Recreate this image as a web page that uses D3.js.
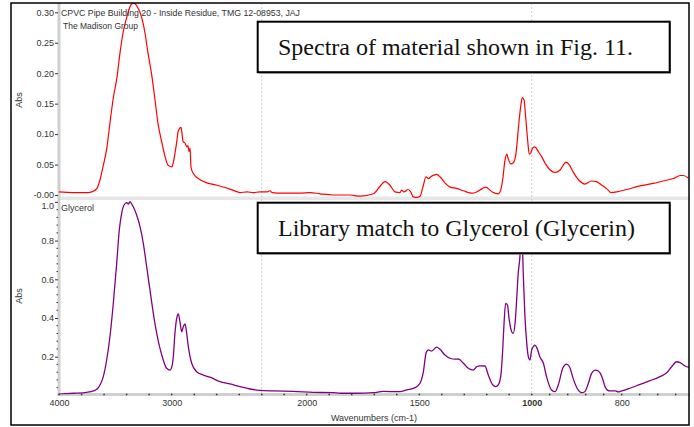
<!DOCTYPE html>
<html>
<head>
<meta charset="utf-8">
<script src="https://cdn.jsdelivr.net/npm/d3@7"></script>
<style>
body { margin: 0; background: #fff; }
svg { display: block; }
.lab { font-family: "Liberation Sans", Arial, sans-serif; font-size: 9px; fill: #333; }
.big { font-family: "Liberation Serif", "Times New Roman", serif; font-size: 24px; fill: #111; }
</style>
</head>
<body>
<svg width="694" height="427"></svg>
<script>
// wavenumber axis of the instrument is piecewise (scale changes at the labelled ticks)
var wnStops = [4000, 3000, 2000, 1500, 1000, 800, 650];
var xTicks = [4000, 3000, 2000, 1500, 1000, 800];
var xMinor = [3800, 3600, 3400, 3200, 2833, 2667, 2500, 2333, 2167, 1900, 1800, 1700, 1600,
              1400, 1300, 1200, 1100, 960, 920, 880, 840, 760, 720, 680];
var gridWn = [2333, 1000];

var topTicks = [0, 0.05, 0.10, 0.15, 0.20, 0.25, 0.30];
var topTickLabels = ["-0.00", "0.05", "0.10", "0.15", "0.20", "0.25", "0.30"];
var botTicks = [0.2, 0.4, 0.6, 0.8, 1.0];
var botTickLabels = ["0.2", "0.4", "0.6", "0.8", "1.0"];
var botMinor = d3.range(1, 25).map(function (i) { return i * 0.04; });

// sample: CPVC pipe inside residue
var sampleWn = [4000,3876,3752,3698,3663,3636,3610,3574,3548,3521,
  3485,3459,3432,3397,3370,3343,3326,3299,3264,3237,
  3210,3175,3148,3122,3086,3059,3033,2998,2990,2976,
  2961,2953,2939,2931,2924,2916,2901,2887,2879,2872,
  2864,2857,2842,2790,2739,2664,2546,2494,2442,2398,
  2346,2294,2272,2257,2176,2050,1985,1941,1883,1808,
  1763,1704,1675,1652,1630,1608,1586,1578,1568,1549,
  1538,1527,1509,1497,1482,1470,1460,1445,1423,1408,
  1386,1363,1334,1304,1267,1245,1222,1203,1186,1171,
  1149,1141,1129,1119,1111,1104,1093,1082,1070,1060,
  1049,1042,1034,1027,1018,1011,1004,998,993,985,
  978,970,959,948,937,930,924,916,908,896,
  882,867,856,844,833,824,811,789,759,730,
  708,685,670,663,652];
var sampleAbs = [0.005,0.004,0.004,0.006,0.011,0.025,0.046,0.079,0.118,0.156,
  0.194,0.233,0.266,0.293,0.309,0.315,0.314,0.307,0.290,0.266,
  0.233,0.194,0.156,0.118,0.085,0.063,0.049,0.046,0.052,0.068,
  0.090,0.104,0.110,0.111,0.102,0.088,0.085,0.079,0.081,0.071,
  0.077,0.046,0.036,0.025,0.020,0.016,0.008,0.004,0.005,0.004,
  0.005,0.005,0.007,0.004,0.003,0.003,0.004,0.002,0.000,0.000,
  -0.002,0.002,0.014,0.022,0.016,0.005,0.004,0.008,0.005,0.009,
  0.005,-0.003,-0.004,-0.002,0.016,0.030,0.027,0.031,0.034,0.030,
  0.020,0.013,0.011,0.007,0.003,0.005,0.010,0.013,0.008,0.004,
  0.002,0.005,0.025,0.057,0.067,0.059,0.051,0.053,0.068,0.107,
  0.145,0.160,0.156,0.129,0.090,0.067,0.069,0.077,0.079,0.071,
  0.063,0.052,0.041,0.037,0.041,0.049,0.054,0.049,0.038,0.025,
  0.018,0.023,0.022,0.016,0.010,0.004,0.005,0.009,0.015,0.019,
  0.023,0.027,0.032,0.032,0.028];

// library: glycerol
var glyWn = [4000,3873,3754,3696,3665,3636,3607,3577,3548,3518,
  3488,3465,3444,3423,3399,3385,3370,3355,3341,3311,
  3281,3252,3222,3193,3163,3133,3104,3075,3045,3015,
  3000,2988,2976,2963,2951,2939,2926,2914,2901,2889,
  2877,2852,2815,2766,2716,2642,2568,2494,2420,2346,
  2247,2099,1971,1882,1852,1778,1704,1660,1586,1556,
  1519,1497,1482,1470,1460,1445,1423,1408,1386,1363,
  1341,1326,1304,1282,1260,1245,1230,1208,1193,1178,
  1160,1149,1138,1129,1123,1116,1108,1100,1089,1082,
  1074,1067,1060,1052,1048,1043,1037,1030,1022,1015,
  1008,1000,996,993,988,982,974,967,956,948,
  941,931,923,916,908,899,889,882,874,867,
  859,852,844,837,829,822,814,808,800,782,
  759,737,715,700,689,678,670,659,648];
var glyAbs = [0.007,0.011,0.016,0.023,0.032,0.054,0.097,0.183,0.303,0.476,
  0.683,0.855,0.941,0.984,0.996,0.989,1.001,0.989,0.975,0.932,
  0.872,0.786,0.665,0.545,0.424,0.321,0.243,0.183,0.140,0.131,
  0.145,0.200,0.321,0.398,0.421,0.381,0.329,0.355,0.369,0.321,
  0.252,0.166,0.122,0.105,0.094,0.071,0.059,0.045,0.033,0.026,
  0.023,0.021,0.016,0.014,0.011,0.011,0.014,0.021,0.019,0.028,
  0.040,0.063,0.122,0.218,0.235,0.229,0.249,0.238,0.209,0.192,
  0.187,0.188,0.166,0.140,0.131,0.148,0.153,0.152,0.105,0.063,
  0.045,0.054,0.097,0.235,0.373,0.476,0.467,0.390,0.329,0.321,
  0.373,0.493,0.631,0.726,0.840,0.810,0.613,0.407,0.269,0.200,
  0.183,0.235,0.252,0.260,0.243,0.200,0.166,0.097,0.028,0.019,
  0.054,0.140,0.162,0.148,0.088,0.037,0.014,0.019,0.063,0.114,
  0.131,0.126,0.097,0.045,0.024,0.023,0.023,0.018,0.023,0.037,
  0.057,0.076,0.097,0.117,0.148,0.174,0.169,0.152,0.143];

var svg = d3.select("svg");

var x = d3.scaleLinear().domain(wnStops).range([59, 171.7, 306.7, 419.3, 531.7, 621.7, 689.2]);
var yTop = d3.scaleLinear().domain([0, 0.30]).range([195, 12.3]);
var yBot = d3.scaleLinear().domain([0, 1.0]).range([395.4, 201.9]);

var plotL = 59, plotR = 689, plotT = 3, axisY = 394.5;

svg.append("defs").append("clipPath").attr("id", "plotclip")
  .append("rect").attr("x", plotL).attr("y", plotT).attr("width", plotR - plotL).attr("height", axisY - plotT);

// panel separator
svg.append("rect").attr("x", plotL).attr("y", 196.5).attr("width", plotR - plotL + 1).attr("height", 3.5).attr("fill", "#e6e6e6");

// grid
svg.selectAll(".grid").data(gridWn).enter().append("line")
  .attr("x1", function (d) { return x(d); }).attr("x2", function (d) { return x(d); })
  .attr("y1", plotT).attr("y2", axisY)
  .attr("stroke", "#c4c4c4").attr("stroke-width", 0.8).attr("stroke-dasharray", "2,2");

// y axis bar and x axis bar
svg.append("rect").attr("x", 57.5).attr("y", plotT).attr("width", 3).attr("height", axisY - plotT + 1.5).attr("fill", "#cfcfcf");
svg.append("rect").attr("x", 57.5).attr("y", axisY - 1.5).attr("width", plotR - 57.5 + 1).attr("height", 3).attr("fill", "#cfcfcf");

function styleAxis(g) {
  g.select(".domain").remove();
  g.attr("font-family", null).attr("font-size", null);
  g.selectAll("line").attr("stroke", "#333");
  g.selectAll("text").attr("class", "lab").attr("fill", null);
}

var gTop = svg.append("g").attr("transform", "translate(58,0)")
  .call(d3.axisLeft(yTop).tickValues(topTicks)
    .tickFormat(function (d, i) { return topTickLabels[i]; })
    .tickSize(3).tickPadding(1));
styleAxis(gTop);

var gBot = svg.append("g").attr("transform", "translate(58,0)")
  .call(d3.axisLeft(yBot).tickValues(botTicks)
    .tickFormat(function (d, i) { return botTickLabels[i]; })
    .tickSize(3).tickPadding(1));
styleAxis(gBot);
gBot.selectAll(".tick").filter(function (d) { return d === 1.0; }).select("text").attr("dy", "0.75em");

svg.append("g").selectAll("line").data(botMinor.filter(function (d) {
    return botTicks.every(function (t) { return Math.abs(t - d) > 1e-6; });
  })).enter().append("line")
  .attr("x1", 56.5).attr("x2", 58).attr("y1", function (d) { return yBot(d); }).attr("y2", function (d) { return yBot(d); })
  .attr("stroke", "#333").attr("stroke-width", 1);

// x ticks as dots on the bar
svg.append("g").selectAll("rect").data(xMinor.concat(xTicks)).enter().append("rect")
  .attr("x", function (d) { return x(d) - 0.75; }).attr("y", axisY - 0.75)
  .attr("width", 1.5).attr("height", 1.5).attr("fill", "#333");

var gx = svg.append("g").attr("transform", "translate(0," + axisY + ")")
  .call(d3.axisBottom(x).tickValues(xTicks).tickFormat(d3.format("d")).tickSize(0).tickPadding(5));
styleAxis(gx);
gx.selectAll(".tick").filter(function (d) { return d === 1000; }).select("text").attr("font-weight", "bold");

// spectra
var lineTop = d3.line().x(function (d) { return x(d[0]); }).y(function (d) { return yTop(d[1]); }).curve(d3.curveMonotoneX);
var lineBot = d3.line().x(function (d) { return x(d[0]); }).y(function (d) { return yBot(d[1]); }).curve(d3.curveMonotoneX);

svg.append("path").datum(d3.zip(sampleWn, sampleAbs)).attr("clip-path", "url(#plotclip)")
  .attr("d", lineTop).attr("fill", "none").attr("stroke", "#ff0000").attr("stroke-width", 1.2);
svg.append("path").datum(d3.zip(glyWn, glyAbs)).attr("clip-path", "url(#plotclip)")
  .attr("d", lineBot).attr("fill", "none").attr("stroke", "#800080").attr("stroke-width", 1.3);

// titles and axis names
svg.append("text").attr("class", "lab").attr("x", 61).attr("y", 15.5).attr("fill", "#222")
  .attr("textLength", 239).attr("lengthAdjust", "spacingAndGlyphs")
  .text("CPVC Pipe Building 20 - Inside Residue, TMG 12-08953, JAJ");
svg.append("text").attr("class", "lab").attr("x", 63).attr("y", 29).attr("fill", "#222")
  .attr("textLength", 75).attr("lengthAdjust", "spacingAndGlyphs")
  .text("The Madison Group");
svg.append("text").attr("class", "lab").attr("x", 61).attr("y", 210.5).attr("fill", "#222")
  .text("Glycerol");

[100, 296].forEach(function (cy) {
  svg.append("text").attr("class", "lab").attr("text-anchor", "middle")
    .attr("transform", "translate(22," + cy + ") rotate(-90)").text("Abs");
});
svg.append("text").attr("class", "lab").attr("x", 374).attr("y", 421).attr("text-anchor", "middle")
  .text("Wavenumbers (cm-1)");

// annotation boxes
function box(y, label, len) {
  svg.append("rect").attr("x", 259).attr("y", y + 1.5).attr("width", 412).attr("height", 50.5).attr("fill", "#9a9a9a");
  svg.append("rect").attr("x", 257.7).attr("y", y).attr("width", 412).attr("height", 50.5)
    .attr("fill", "#fff").attr("stroke", "#000").attr("stroke-width", 2);
  svg.append("text").attr("class", "big").attr("x", 278).attr("y", y + 33.5)
    .attr("textLength", len).attr("lengthAdjust", "spacingAndGlyphs").text(label);
}
box(21.7, "Spectra of material shown in Fig. 11.", 355);
box(202.7, "Library match to Glycerol (Glycerin)", 357);

// outer frame
svg.append("rect").attr("x", 11).attr("y", 3).attr("width", 678).attr("height", 422)
  .attr("fill", "none").attr("stroke", "#000").attr("stroke-width", 1.5);
</script>
</body>
</html>
